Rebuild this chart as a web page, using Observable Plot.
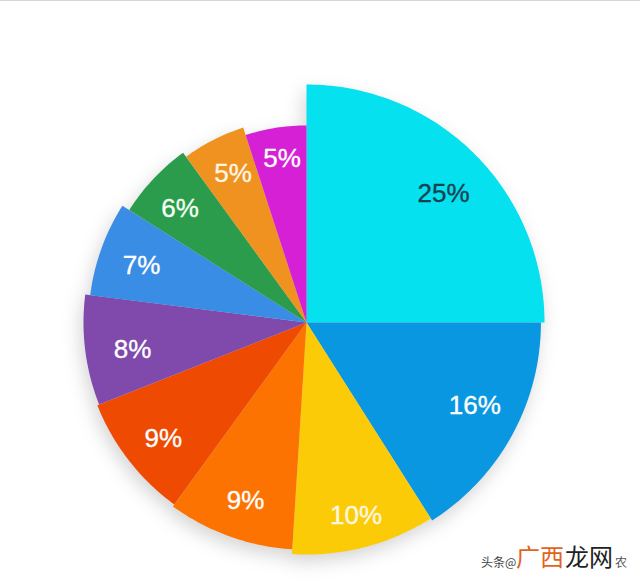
<!DOCTYPE html>
<html>
<head>
<meta charset="utf-8">
<script src="https://cdn.jsdelivr.net/npm/d3@7"></script>
<script src="https://cdn.jsdelivr.net/npm/@observablehq/plot@0.6"></script>
<style>
  html, body { margin: 0; padding: 0; background: #fff; }
  #wrap { position: relative; width: 640px; height: 587px; overflow: hidden; }
  #topline { position: absolute; left: 0; top: 0; width: 640px; height: 1px; background: #d6d6d6; }
  #chart svg { display: block; }
  .wm { position: absolute; white-space: nowrap; font-family: "Noto Sans CJK SC", sans-serif; line-height: 1; }
</style>
</head>
<body>
<div id="wrap">
  <div id="chart"></div>
  <div id="topline"></div>
  <div class="wm" style="left:481px; top:556px; font-size:12px; color:#444;">头条@</div>
  <div class="wm" style="left:516px; top:544px; font-size:24px; color:#E2631C;">广西</div>
  <div class="wm" style="left:565px; top:544px; font-size:24px; color:#222;">龙网</div>
  <div class="wm" style="left:615px; top:556px; font-size:12px; color:#555;">农</div>
</div>
<script>
// ---- data ----
const labels = ["25%", "16%", "10%", "9%", "9%", "8%", "7%", "6%", "5%", "5%"];
const shares = [25, 16, 10, 9, 9, 8, 7, 6, 5, 5];
// relative outer radius of each slice (largest = 1)
const relRadius = [1.00, 0.985, 0.975, 0.955, 0.945, 0.937, 0.916, 0.882, 0.861, 0.828];
const colors = ["#05E1EE", "#0A97E2", "#FBCB07", "#FD7302", "#EE4A02",
                "#8049AC", "#3A8DE4", "#2A9C4C", "#EF921F", "#D520D6"];
const labelColors = ["#1A4152", "#ffffff", "#fff8e0", "#ffffff", "#ffffff",
                     "#ffffff", "#ffffff", "#f4fff4", "#fff6e6", "#ffffff"];
// label placement inside each slice: [fraction of slice angle, fraction of slice radius]
const labelAngleFrac = [0.52, 0.455, 0.50, 0.47, 0.46, 0.44, 0.47, 0.44, 0.54, 0.53];
const labelRadiusFrac = [0.79, 0.80, 0.86, 0.83, 0.82, 0.79, 0.80, 0.81, 0.81, 0.84];

// ---- geometry ----
const R = 238;
const pie = d3.pie().sort(null).value(d => d)(shares);
const slices = pie.map((p, i) => ({
  i, label: labels[i], color: colors[i], lc: labelColors[i],
  a0: p.startAngle, a1: p.endAngle, r: relRadius[i] * R
}));

const wedgePts = [];
for (const s of slices) {
  wedgePts.push({id: s.i, color: s.color, x: 0, y: 0});
  const n = Math.max(8, Math.ceil((s.a1 - s.a0) / (Math.PI / 180)));
  for (let k = 0; k <= n; k++) {
    const a = s.a0 + (s.a1 - s.a0) * k / n;
    wedgePts.push({id: s.i, color: s.color, x: s.r * Math.sin(a), y: s.r * Math.cos(a)});
  }
}
const labelPts = slices.map(s => {
  const a = s.a0 + (s.a1 - s.a0) * labelAngleFrac[s.i];
  const rr = s.r * labelRadiusFrac[s.i];
  return {...s, x: rr * Math.sin(a), y: rr * Math.cos(a)};
});

const chart = Plot.plot({
  width: 640,
  height: 587,
  margin: 0,
  x: {domain: [-306, 334], axis: null},
  y: {domain: [-265, 322], axis: null},
  color: {type: "identity"},
  style: {background: "transparent"},
  marks: [
    Plot.line(wedgePts, {
      x: "x", y: "y", z: "id", fill: "color", stroke: "none",
      curve: "linear-closed"
    }),
    Plot.text(labelPts, {
      x: "x", y: "y", text: "label", fill: "lc", stroke: "lc", strokeWidth: 0.35,
      fontSize: 26, fontFamily: "Liberation Sans, Arial, sans-serif"
    })
  ]
});
const g = chart.querySelector("g[aria-label='line']");
if (g) g.style.filter = "drop-shadow(-3px 7px 9px rgba(0,0,0,0.17))";
document.getElementById("chart").appendChild(chart);
</script>
</body>
</html>
